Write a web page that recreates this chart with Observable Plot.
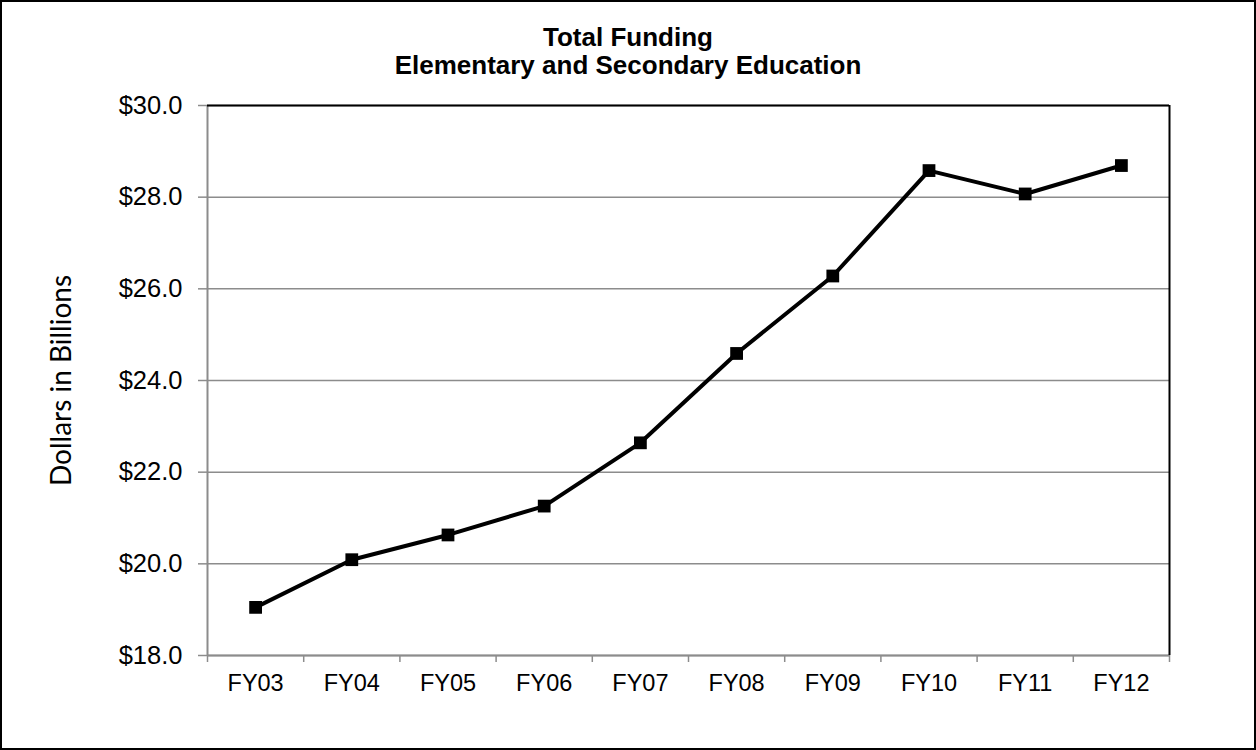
<!DOCTYPE html>
<html>
<head>
<meta charset="utf-8">
<script src="https://cdn.jsdelivr.net/npm/d3@7"></script>
<script src="https://cdn.jsdelivr.net/npm/@observablehq/plot@0.6"></script>
<style>
  html, body { margin: 0; padding: 0; overflow: hidden; background: #fff; }
  #chart { position: absolute; left: 0; top: 0; width: 1256px; height: 750px; }
  #chart svg { position: absolute; left: 0; top: 0; }
  #title { position: absolute; left: 0; top: 23px; width: 1256px; text-align: center;
           font-family: "Liberation Sans", Arial, sans-serif; font-weight: bold;
           font-size: 26px; line-height: 28px; color: #000; }
  #border { position: absolute; left: 0; top: 0; width: 1256px; height: 750px;
            border: 2px solid #000; box-sizing: border-box; pointer-events: none; }
</style>
</head>
<body>
<div id="chart"></div>
<div id="title">Total Funding<br>Elementary and Secondary Education</div>
<div id="border"></div>
<script>
const categories = ["FY03", "FY04", "FY05", "FY06", "FY07", "FY08", "FY09", "FY10", "FY11", "FY12"];
const values = [19.05, 20.09, 20.63, 21.26, 22.64, 24.59, 26.28, 28.58, 28.07, 28.69];
const yTicks = [18, 20, 22, 24, 26, 28, 30];
const yLabel = "Dollars in Billions";

const data = categories.map((c, i) => ({cat: c, pos: i + 0.5, value: values[i]}));
const boundaries = d3.range(0, categories.length + 1);
const centers = data.map(d => d.pos);
const gray = "#8c8c8c";

const chart = Plot.plot({
  width: 1256,
  height: 750,
  marginTop: 105,
  marginBottom: 95,
  marginLeft: 207,
  marginRight: 87,
  style: {fontFamily: "'Liberation Sans', Arial, sans-serif", background: "transparent"},
  x: {type: "linear", domain: [0, categories.length]},
  y: {domain: [yTicks[0], yTicks[yTicks.length - 1]]},
  marks: [
    Plot.gridY(yTicks, {stroke: gray, strokeOpacity: 1, strokeWidth: 1.5}),
    Plot.axisY({ticks: yTicks, tickFormat: d => "$" + d.toFixed(1), tickSize: 9, tickPadding: 16,
                stroke: gray, strokeWidth: 1.5, fill: "#000", fontSize: 25.5, label: null}),
    Plot.axisX({ticks: boundaries, tickFormat: () => "", tickSize: 7, stroke: gray, strokeWidth: 1.5, label: null}),
    Plot.axisX({ticks: centers, tickSize: 0, tickPadding: 19, tickFormat: v => categories[Math.floor(v)],
                fill: "#000", fontSize: 23.5, label: null}),
    Plot.ruleX([0], {stroke: gray, strokeWidth: 2}),
    Plot.ruleY([yTicks[0]], {stroke: gray, strokeWidth: 2}),
    Plot.ruleY([yTicks[yTicks.length - 1]], {stroke: "#000", strokeWidth: 2}),
    Plot.ruleX([categories.length], {stroke: "#000", strokeWidth: 2}),
    Plot.line(data, {x: "pos", y: "value", stroke: "#000", strokeWidth: 4}),
    Plot.dot(data, {x: "pos", y: "value", symbol: "square", r: 7.2, fill: "#000", stroke: "none"}),
    Plot.text([yLabel], {frameAnchor: "left", textAnchor: "middle", dx: -145, rotate: -90, fontSize: 28,
                         fontFamily: "Lato, 'Open Sans', sans-serif", fill: "#000"})
  ]
});
document.getElementById("chart").appendChild(chart);
</script>
</body>
</html>
